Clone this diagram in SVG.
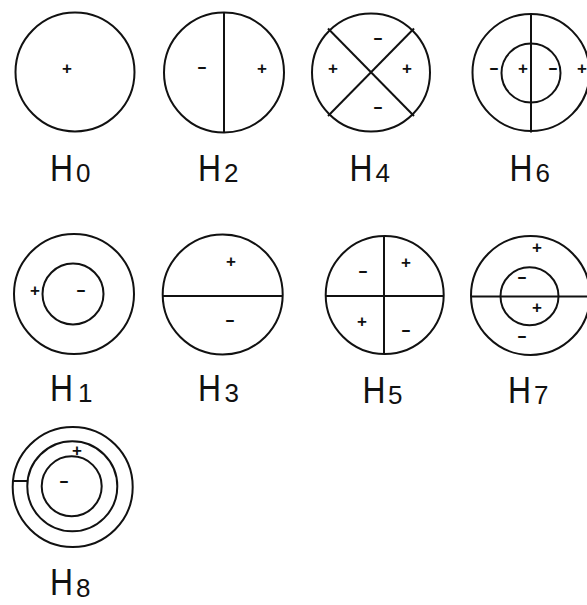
<svg xmlns="http://www.w3.org/2000/svg" width="587" height="605" viewBox="0 0 587 605">
<style>
  .c { fill: none; stroke: #111; stroke-width: 2; }
  .l { stroke: #111; stroke-width: 2; fill: none; }
  .p { font-family: "Liberation Sans", Arial, sans-serif; font-weight: bold; font-size: 17px; fill: #111; text-anchor: middle; }
  .m { font-family: "Liberation Sans", Arial, sans-serif; font-weight: bold; font-size: 16px; fill: #111; text-anchor: middle; }
  .lbl { font-family: "Liberation Sans", Arial, sans-serif; font-size: 37px; fill: #111; }
  .sub { font-family: "Liberation Sans", Arial, sans-serif; font-size: 26px; fill: #111; }
</style>
<rect width="587" height="605" fill="#fff"/>

<g id="H0">
  <circle class="c" cx="75" cy="72" r="59.5"/>
  <text class="p" x="67" y="74">+</text>
  <text class="lbl" x="50" y="181" textLength="23" lengthAdjust="spacingAndGlyphs">H</text>
  <text class="sub" x="76" y="182">0</text>
</g>

<g id="H2">
  <circle class="c" cx="224" cy="72.5" r="60"/>
  <line class="l" x1="224" y1="12.5" x2="224" y2="132.5"/>
  <text class="m" x="202" y="71.5" textLength="10" lengthAdjust="spacingAndGlyphs">-</text>
  <text class="p" x="262" y="74">+</text>
  <text class="lbl" x="198" y="181" textLength="23" lengthAdjust="spacingAndGlyphs">H</text>
  <text class="sub" x="224" y="182">2</text>
</g>

<g id="H4">
  <circle class="c" cx="371" cy="72.5" r="59"/>
  <line class="l" x1="328" y1="28.5" x2="414" y2="116"/>
  <line class="l" x1="414" y1="28.5" x2="328" y2="116"/>
  <text class="m" x="378" y="42.5" textLength="10" lengthAdjust="spacingAndGlyphs">-</text>
  <text class="p" x="333" y="74">+</text>
  <text class="p" x="407" y="74">+</text>
  <text class="m" x="378" y="111.5" textLength="10" lengthAdjust="spacingAndGlyphs">-</text>
  <text class="lbl" x="349.5" y="181" textLength="23" lengthAdjust="spacingAndGlyphs">H</text>
  <text class="sub" x="375.5" y="182">4</text>
</g>

<g id="H6">
  <circle class="c" cx="531" cy="72.5" r="58.5"/>
  <circle class="c" cx="531" cy="73" r="29.5"/>
  <line class="l" x1="531" y1="13" x2="531" y2="132.5"/>
  <text class="m" x="494" y="72.5" textLength="10" lengthAdjust="spacingAndGlyphs">-</text>
  <text class="p" x="523" y="74">+</text>
  <text class="m" x="553" y="72.5" textLength="10" lengthAdjust="spacingAndGlyphs">-</text>
  <text class="p" x="582" y="74">+</text>
  <text class="lbl" x="509.5" y="181" textLength="23" lengthAdjust="spacingAndGlyphs">H</text>
  <text class="sub" x="535.5" y="182">6</text>
</g>

<g id="H1">
  <circle class="c" cx="74" cy="294" r="60"/>
  <circle class="c" cx="73" cy="294" r="30.5"/>
  <text class="p" x="35" y="296">+</text>
  <text class="m" x="81" y="294.5" textLength="10" lengthAdjust="spacingAndGlyphs">-</text>
  <text class="lbl" x="50" y="401" textLength="23" lengthAdjust="spacingAndGlyphs">H</text>
  <text class="sub" x="78" y="402">1</text>
</g>

<g id="H3">
  <circle class="c" cx="222.7" cy="294.5" r="60"/>
  <line class="l" x1="162.7" y1="296" x2="282.7" y2="296"/>
  <text class="p" x="231" y="267">+</text>
  <text class="m" x="230" y="324.5" textLength="10" lengthAdjust="spacingAndGlyphs">-</text>
  <text class="lbl" x="198" y="401" textLength="23" lengthAdjust="spacingAndGlyphs">H</text>
  <text class="sub" x="224.5" y="402">3</text>
</g>

<g id="H5">
  <circle class="c" cx="384.7" cy="295" r="59"/>
  <line class="l" x1="384" y1="236" x2="384" y2="354"/>
  <line class="l" x1="325.7" y1="296" x2="443.7" y2="296"/>
  <text class="m" x="363" y="275.5" textLength="10" lengthAdjust="spacingAndGlyphs">-</text>
  <text class="p" x="406" y="268">+</text>
  <text class="p" x="362" y="327">+</text>
  <text class="m" x="406" y="334.5" textLength="10" lengthAdjust="spacingAndGlyphs">-</text>
  <text class="lbl" x="362.5" y="403" textLength="23" lengthAdjust="spacingAndGlyphs">H</text>
  <text class="sub" x="388" y="404">5</text>
</g>

<g id="H7">
  <circle class="c" cx="530.5" cy="295.5" r="59.5"/>
  <circle class="c" cx="529.5" cy="296.3" r="29"/>
  <line class="l" x1="471" y1="296.5" x2="587" y2="296.5"/>
  <text class="p" x="537" y="253">+</text>
  <text class="m" x="522" y="281.5" textLength="10" lengthAdjust="spacingAndGlyphs">-</text>
  <text class="p" x="537" y="313">+</text>
  <text class="m" x="522" y="340.5" textLength="10" lengthAdjust="spacingAndGlyphs">-</text>
  <text class="lbl" x="508" y="403" textLength="23" lengthAdjust="spacingAndGlyphs">H</text>
  <text class="sub" x="534" y="404">7</text>
</g>

<g id="H8">
  <circle class="c" cx="72.7" cy="487" r="60"/>
  <circle class="c" cx="72.3" cy="486.3" r="45"/>
  <circle class="c" cx="71.7" cy="486.3" r="30"/>
  <line class="l" x1="13" y1="481" x2="27.5" y2="481"/>
  <text class="p" x="77" y="456">+</text>
  <text class="m" x="64" y="485.5" textLength="10" lengthAdjust="spacingAndGlyphs">-</text>
  <text class="lbl" x="50" y="595" textLength="23" lengthAdjust="spacingAndGlyphs">H</text>
  <text class="sub" x="76" y="597">8</text>
</g>

<g id="connectors"></g>
</svg>
